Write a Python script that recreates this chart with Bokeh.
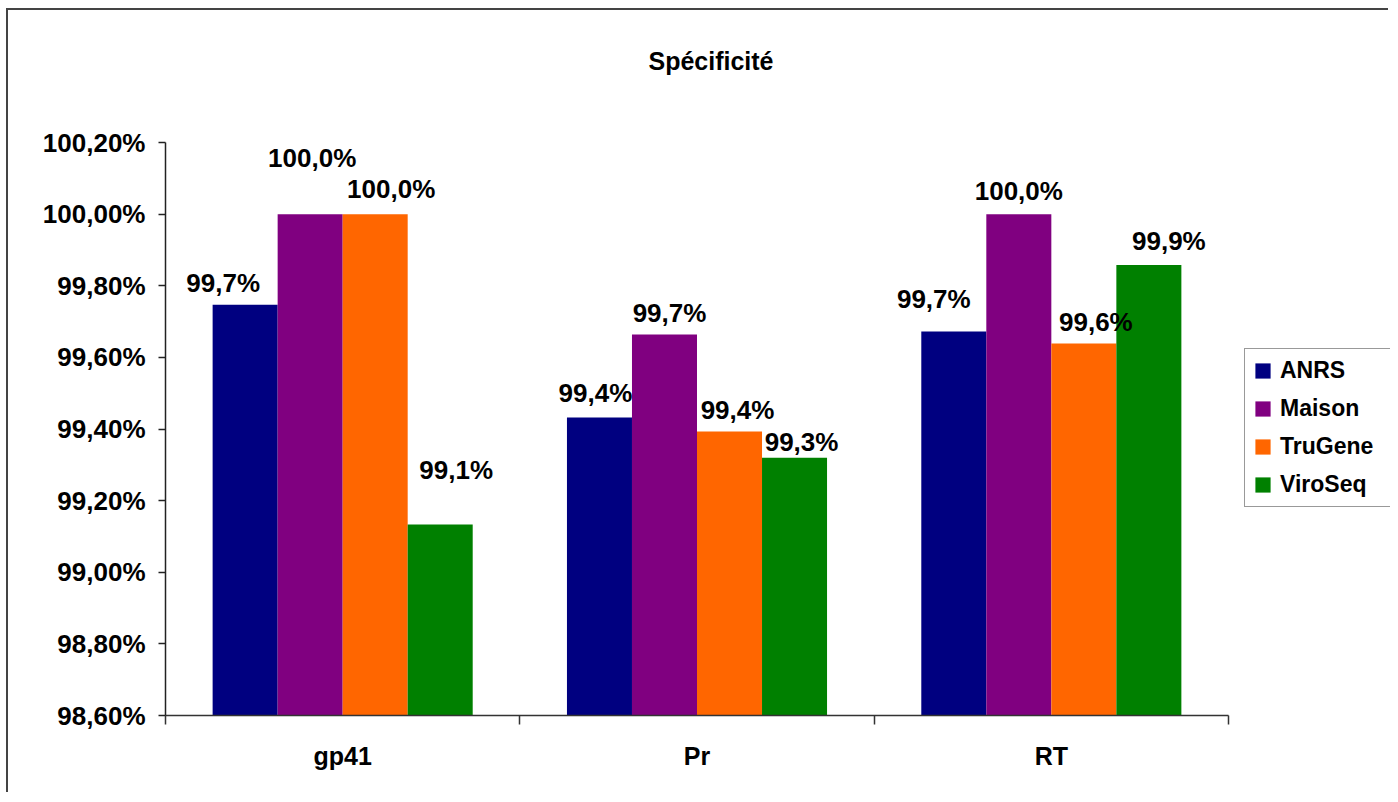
from bokeh.plotting import figure
from bokeh.models import (Range1d, FixedTicker, CustomJSTickFormatter, Legend,
                          LegendItem, Label, ColumnDataSource)
from bokeh.core.properties import value
from bokeh.embed import file_html
from bokeh.resources import INLINE

# ---------------- data ----------------
title_text = "Spécificité"
categories = ["gp41", "Pr", "RT"]
series = ["ANRS", "Maison", "TruGene", "ViroSeq"]
anrs = [99.747, 99.432, 99.672]
maison = [100.0, 99.664, 100.0]
trugene = [100.0, 99.393, 99.639]
viroseq = [99.133, 99.320, 99.858]
y_ticks = [98.6, 98.8, 99.0, 99.2, 99.4, 99.6, 99.8, 100.0, 100.2]

# ---------------- style / layout ----------------
colors = ["#000080", "#800080", "#FF6600", "#008000"]
FONT = "Liberation Sans"
group_width = 0.734
bar_w = group_width / 4
# per-label pixel offsets (Excel-like label placement)
label_dx = [[-22, -4, -20], [2, 5, 0], [16, 8, 12], [16, 7, 20]]
label_dy = [[-22, -25, -33], [-56, -21, -23], [-25, -22, -21], [-55, -16, -24]]

# page geometry (pixels)
W, H = 1382, 784            # canvas size
LEFT_BORDER = 157           # space for y axis
BOTTOM_BORDER = 79          # space for x axis
AXIS_X_PX = 1063            # width covered by the 3 categories
AXIS_Y_PX = 573             # height covered by 98.6 .. 100.2
frame_w = W - LEFT_BORDER
frame_h = H - BOTTOM_BORDER
n = len(categories)
x_max = n * frame_w / AXIS_X_PX
y_lo, y_hi = y_ticks[0], y_ticks[-1]
y_max = y_lo + (y_hi - y_lo) * frame_h / AXIS_Y_PX
px_x = n / AXIS_X_PX
px_y = (y_hi - y_lo) / AXIS_Y_PX

values = [anrs, maison, trugene, viroseq]

p = figure(width=W, height=H,
           x_range=Range1d(0, x_max), y_range=Range1d(y_lo, y_max),
           output_backend="svg", toolbar_location=None,
           min_border_left=LEFT_BORDER, min_border_top=0, min_border_right=0,
           min_border_bottom=BOTTOM_BORDER)
p.title.visible = False
p.outline_line_color = None
p.xgrid.visible = False
p.ygrid.visible = False
p.background_fill_color = "white"
p.border_fill_color = "white"
p.styles = {"margin-left": "6px", "margin-top": "8px",
            "border-left": "2px solid #444", "border-top": "2px solid #444"}

sources = []
items = []
for k, (name, vals) in enumerate(zip(series, values)):
    xs = [i + 0.5 - group_width / 2 + bar_w * (k + 0.5) for i in range(n)]
    src = ColumnDataSource(dict(
        x=xs, top=vals,
        lab=[f"{v:.1f}".replace(".", ",") + "%" for v in vals],
        dx=label_dx[k], dy=label_dy[k]))
    sources.append(src)
    r = p.vbar(x="x", top="top", bottom=y_lo, width=bar_w, source=src,
               fill_color=colors[k], line_color=None)
    items.append(LegendItem(label=name, renderers=[r]))

for src in sources:
    p.text(x="x", y="top", text="lab", source=src, x_offset="dx", y_offset="dy",
           text_align="center", text_baseline="middle",
           text_font=value(FONT), text_font_size="26px", text_font_style="bold",
           text_color="black")

# title
p.add_layout(Label(x=1.5 + 14 * px_x, y=y_hi + 82 * px_y, text=title_text,
                   text_align="center", text_baseline="middle",
                   text_font=FONT, text_font_size="25px", text_font_style="bold",
                   text_color="black"))

# y axis
yax = p.yaxis[0]
yax.bounds = (y_lo, y_hi)
yax.ticker = FixedTicker(ticks=y_ticks, minor_ticks=[])
yax.formatter = CustomJSTickFormatter(code="return tick.toFixed(2).replace('.', ',') + '%';")
yax.major_label_text_font = FONT
yax.major_label_text_font_size = "26px"
yax.major_label_text_font_style = "bold"
yax.major_label_text_color = "black"
yax.major_tick_out = 7
yax.major_tick_in = 0
yax.major_label_standoff = 13
yax.axis_line_color = "#222"
yax.axis_line_width = 1.5
yax.major_tick_line_color = "#222"
yax.major_tick_line_width = 1.5

# x axis
xax = p.xaxis[0]
xax.bounds = (0, n)
xax.ticker = FixedTicker(ticks=[i + 0.5 for i in range(n)],
                         minor_ticks=list(range(n + 1)))
xax.formatter = CustomJSTickFormatter(args=dict(cats=categories),
                                      code="return cats[Math.floor(tick)];")
xax.major_label_text_font = FONT
xax.major_label_text_font_size = "25px"
xax.major_label_text_font_style = "bold"
xax.major_label_text_color = "black"
xax.major_tick_out = 0
xax.major_tick_in = 0
xax.minor_tick_out = 9
xax.minor_tick_in = 0
xax.major_label_standoff = 17
xax.axis_line_color = "#333"
xax.axis_line_width = 1.5
xax.minor_tick_line_color = "#333"
xax.minor_tick_line_width = 1.5

legend = Legend(items=items, location=(1079, 208), margin=0, padding=8, spacing=11,
                glyph_width=19, glyph_height=19, label_standoff=8, label_width=125,
                label_text_font=FONT, label_text_font_size="23px",
                label_text_font_style="bold", label_text_color="black",
                border_line_color="#333", border_line_width=1.5)
p.add_layout(legend, "center")

open("out.html", "w").write(file_html(p, INLINE))
